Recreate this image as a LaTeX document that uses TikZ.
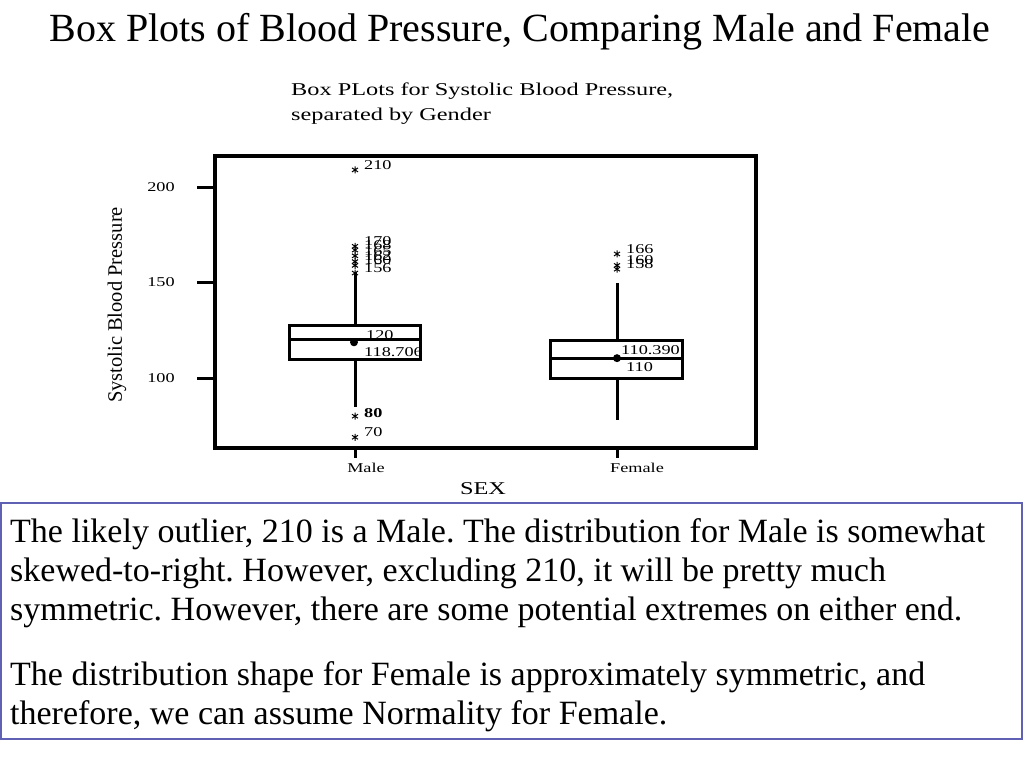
\documentclass[tikz,border=0pt]{standalone}
\usepackage{fontspec}
\setmainfont{Liberation Serif}
\newfontfamily\chartfont[FakeStretch=1.35]{Liberation Serif}
\definecolor{boxblue}{RGB}{96,96,180}
\frenchspacing
\newcommand{\bp}[1]{378-(#1-100)*1.91}
\tikzset{
  frame/.style={line width=3.4pt},
  plotline/.style={line width=3pt},
  lab/.style={inner sep=0pt,font=\chartfont\fontsize{13.5}{13.5}\selectfont},
  ast/.pic={\draw[line width=1pt] (0,-3.5) -- (0,3.5) (-3,-2) -- (3,2) (-3,2) -- (3,-2);}
}
\begin{document}
\begin{tikzpicture}[x=1pt,y=-1pt]
    \useasboundingbox (0,0) rectangle (1024,768);
    \node (title) at (520,32) {\fontsize{40}{40}\selectfont Box Plots of Blood Pressure, Comparing Male and Female};
    \node (ctitle) [anchor=north west,inner sep=0pt,align=left,font=\chartfont\fontsize{18}{25}\selectfont] at (291,83)
        {Box PLots for Systolic Blood Pressure,\\separated by Gender};
    \begin{scope}
    \draw [frame] (215,156) rectangle (756,448);
    \foreach \v in {100,150,200} {
        \draw [plotline] (197,{\bp{\v}}) -- (214,{\bp{\v}});
        \node (tick\v) [lab] at (161,{\bp{\v}}) {\v};
    }
    \draw [plotline] (355,448) -- (355,458);
    \draw [plotline] (617,448) -- (617,458);
    \node (male) [lab] at (366,468) {Male};
    \node (female) [lab] at (637,468) {Female};
    \node (sex) [inner sep=0pt,font=\chartfont\fontsize{18}{18}\selectfont] at (483,489) {SEX};
    \node (ylab) [rotate=90,inner sep=0pt,font=\fontsize{20.5}{20.5}\selectfont] at (117,305) {Systolic Blood Pressure};
    \end{scope}
    % Male
    \draw [plotline] (289,325) rectangle (420,359);
    \draw [plotline] (289,{\bp{120}}) -- (420,{\bp{120}});
    \draw [plotline] (355,325) -- (355,272);
    \draw [plotline] (355,359) -- (355,407);
    \fill (354,{\bp{118.706}}) circle (4);
    \node (mmed) [lab,anchor=west] at (366,335) {120};
    \node (mmean) [lab,anchor=west] at (364,352) {118.706};
    \foreach \v in {210,170,168,165,162,160,156,70} {
        \pic at (355,{\bp{\v}+2}) {ast};
        \node (m\v) [lab,anchor=west] at (364,{\bp{\v}-3}) {\v};
    }
    \pic at (355,{\bp{80}}) {ast};
    \node (m80) [lab,anchor=west,font=\chartfont\bfseries\fontsize{13.5}{13.5}\selectfont] at (364,{\bp{80}-3}) {80};
    % Female
    \draw [plotline] (550,340) rectangle (682,378);
    \draw [plotline] (550,{\bp{110}}) -- (682,{\bp{110}});
    \draw [plotline] (617,340) -- (617,283);
    \draw [plotline] (617,378) -- (617,420);
    \fill (617,{\bp{110.39}}) circle (4);
    \node (fmean) [lab,anchor=west] at (621,350) {110.390};
    \node (fmed) [lab,anchor=west] at (626,367) {110};
    \foreach \v in {166,160,158} {
        \pic at (617,{\bp{\v}+2}) {ast};
        \node (f\v) [lab,anchor=west] at (626,{\bp{\v}-3}) {\v};
    }
    % comments
    \draw [boxblue,line width=1.2pt] (1,503) rectangle (1022,739);
    \node (para1) [anchor=north west,inner sep=0pt,align=left,font=\fontsize{34}{39}\selectfont] at (10,518)
        {The likely outlier, 210 is a Male. The distribution for Male is somewhat\\
         skewed-to-right. However, excluding 210, it will be pretty much\\
         symmetric. However, there are some potential extremes on either end.};
    \node (para2) [anchor=north west,inner sep=0pt,align=left,font=\fontsize{34}{39}\selectfont] at (10,661)
        {The distribution shape for Female is approximately symmetric, and\\
         therefore, we can assume Normality for Female.};
\end{tikzpicture}
\end{document}
